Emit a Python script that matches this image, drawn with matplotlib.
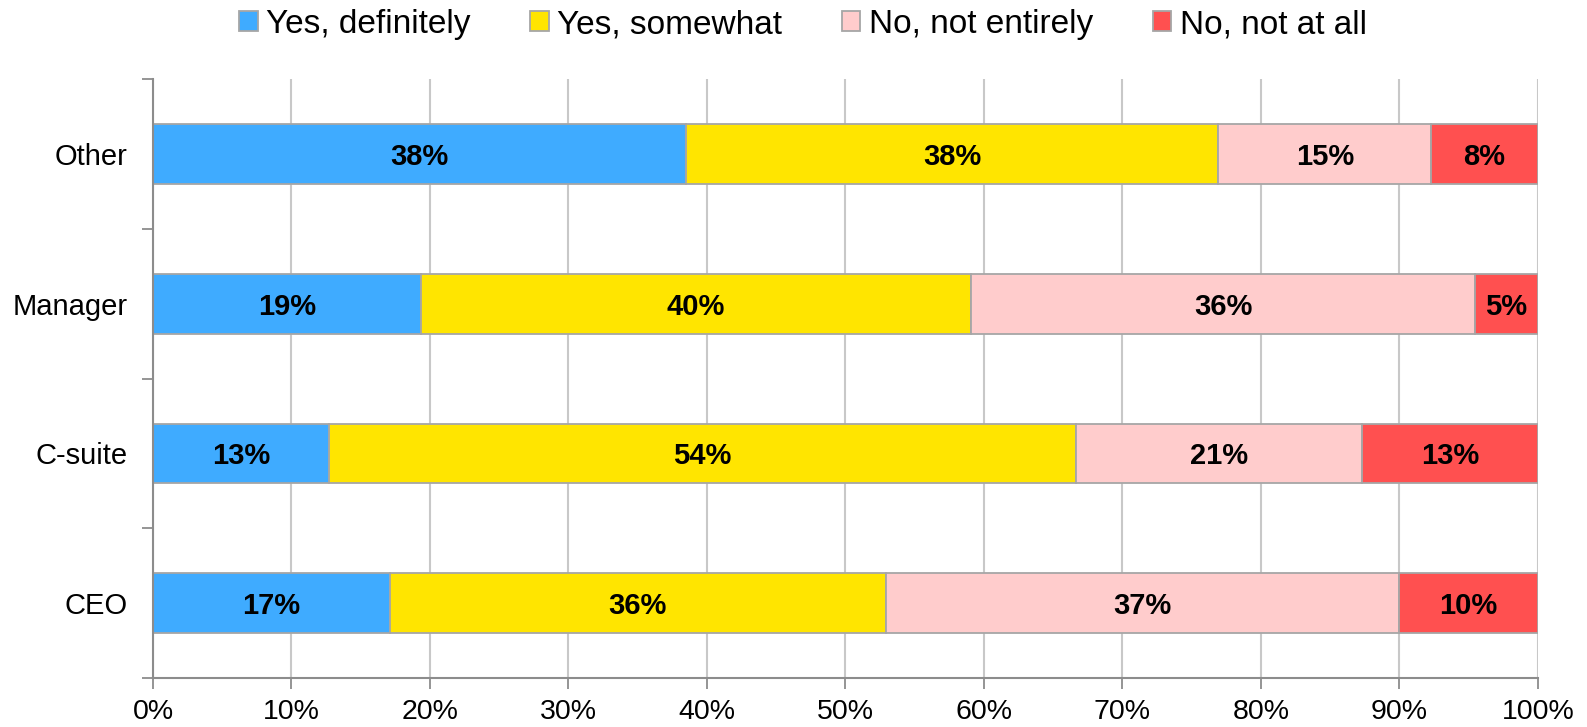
import matplotlib.pyplot as plt
import numpy as np

# Survey answers by role, percent of respondents in each group
roles = ["CEO", "C-suite", "Manager", "Other"]
answers = ["Yes, definitely", "Yes, somewhat", "No, not entirely", "No, not at all"]
yes_definitely = [17.1, 12.70, 19.32, 38.46]
yes_somewhat = [35.8, 53.97, 39.77, 38.46]
no_not_entirely = [37.1, 20.63, 36.36, 15.38]
no_not_at_all = [10.0, 12.70, 4.55, 7.69]
x_ticks = list(range(0, 101, 10))

COLORS = ["#3FABFF", "#FFE500", "#FFCCCC", "#FF5050"]
EDGE = "#A6A6A6"
AXIS_GRAY = "#8C8C8C"

plt.rcParams["font.family"] = ["Liberation Sans", "DejaVu Sans"]

fig = plt.figure(figsize=(15.87, 7.27), dpi=100)
ax = fig.add_axes([0.0964, 0.0674, 0.8727, 0.8236])

series = [yes_definitely, yes_somewhat, no_not_entirely, no_not_at_all]
y = np.arange(len(roles))
left = np.zeros(len(roles))
for name, vals, color in zip(answers, series, COLORS):
    vals = np.array(vals)
    bars = ax.barh(y, vals, left=left, height=0.4, color=color,
                   edgecolor=EDGE, linewidth=1.3, label=name, zorder=3)
    for b, v in zip(bars, vals):
        ax.annotate(f"{v:.0f}%",
                    (b.get_x() + b.get_width() / 2, b.get_y() + b.get_height() / 2),
                    xytext=(0, -2), textcoords="offset points",
                    ha="center", va="center", fontsize=21,
                    fontweight="bold", color="black", zorder=4)
    left += vals

ax.set_xlim(0, 100)
ax.set_ylim(-0.5, len(roles) - 0.5)

# x axis: percent ticks and vertical grid
ax.set_xticks(x_ticks)
ax.set_xticklabels([f"{t}%" for t in x_ticks], fontsize=20.5)
ax.xaxis.grid(True, color="#C8C8C8", linewidth=1.5, zorder=0)
ax.tick_params(axis="x", direction="out", length=8, width=1.3,
               color=AXIS_GRAY, pad=7)

# y axis: labels at category centres, tick marks on the boundaries
ax.set_yticks(y)
ax.set_yticklabels(roles, fontsize=21)
ax.set_yticks(np.arange(-0.5, len(roles), 1.0), minor=True)
ax.tick_params(axis="y", which="major", length=0, pad=18)
ax.tick_params(axis="y", which="minor", direction="out", length=8,
               width=1.3, color=AXIS_GRAY)

for side in ["top", "right"]:
    ax.spines[side].set_visible(False)
for side in ["left", "bottom"]:
    ax.spines[side].set_color(AXIS_GRAY)
    ax.spines[side].set_linewidth(1.5)
    ax.spines[side].set_zorder(5)

leg = fig.legend(loc="center", bbox_to_anchor=(0.506, 0.966), ncol=4,
                 frameon=False, fontsize=24, handlelength=0.55,
                 handleheight=0.55, handletextpad=0.25, columnspacing=1.8,
                 borderaxespad=0)

fig.savefig("out.png", dpi=100)
